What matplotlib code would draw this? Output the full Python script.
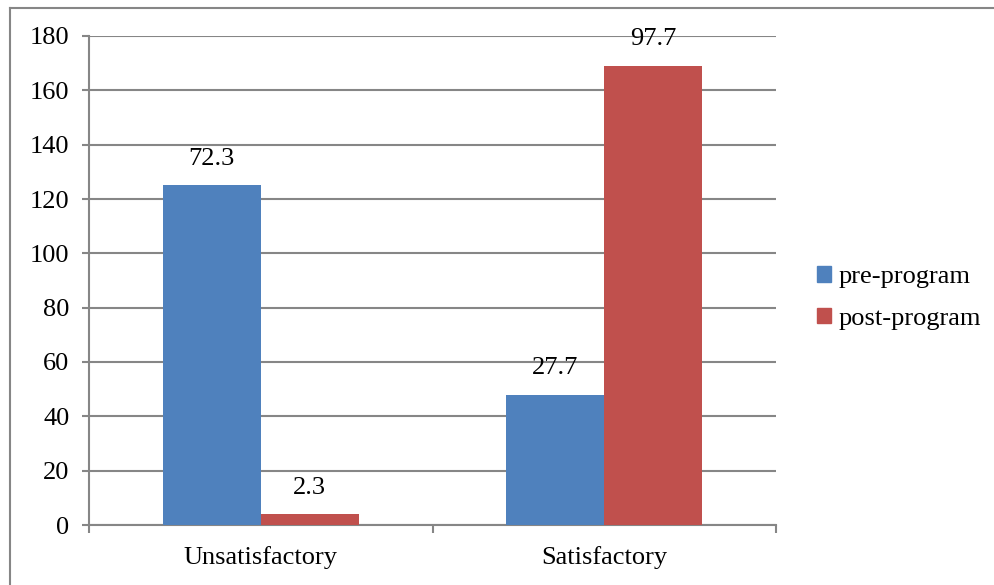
import matplotlib.pyplot as plt
import numpy as np
from matplotlib.lines import Line2D
from matplotlib.patches import Patch

categories = ['Unsatisfactory', 'Satisfactory']
series_names = ['pre-program', 'post-program']
pre_counts = [125, 48]
post_counts = [4, 169]
pre_pct = ['72.3', '27.7']
post_pct = ['2.3', '97.7']
colors = ['#4F81BD', '#C0504D']
yticks = [0, 20, 40, 60, 80, 100, 120, 140, 160, 180]

plt.rcParams['font.family'] = ['Liberation Serif', 'DejaVu Serif']
FS = 19

W, H = 995, 585
fig = plt.figure(figsize=(W / 100, H / 100), dpi=100)
ax = fig.add_axes([89 / W, 1 - 525 / H, (776 - 89) / W, (525 - 36) / H])

x = np.arange(len(categories))
bw = 0.285
b1 = ax.bar(x - bw / 2, pre_counts, bw, color=colors[0], zorder=3)
b2 = ax.bar(x + bw / 2, post_counts, bw, color=colors[1], zorder=3)

for bars, labels in ((b1, pre_pct), (b2, post_pct)):
    for rect, lab in zip(bars, labels):
        ax.annotate(lab, (rect.get_x() + rect.get_width() / 2, rect.get_height()),
                    xytext=(0, 19), textcoords='offset points',
                    ha='center', va='center', fontsize=FS, zorder=4)

ax.set_xlim(-0.5, 1.5)
ax.set_ylim(0, 180)
ax.set_yticks(yticks)
ax.tick_params(axis='y', labelsize=FS, length=5, width=1.5, color='#868686', pad=9)
ax.yaxis.grid(True, color='#868686', linewidth=1.5, zorder=0)
ax.set_axisbelow(True)

# category labels, tick marks at the boundaries
ax.set_xticks([-0.5, 0.5, 1.5])
ax.set_xticklabels([])
ax.tick_params(axis='x', length=6, width=1.5, color='#868686')
for xi, c in zip(x, categories):
    ax.text(xi, -0.066, c, transform=ax.get_xaxis_transform(),
            ha='center', va='center', fontsize=FS)

for s in ('top', 'right'):
    ax.spines[s].set_visible(False)
for s in ('left', 'bottom'):
    ax.spines[s].set_color('#868686')
    ax.spines[s].set_linewidth(1.5)

handles = [Patch(color=c) for c in colors]
fig.legend(handles, series_names, loc='center left',
           bbox_to_anchor=(793 / W, 1 - 298 / H), frameon=False,
           fontsize=FS, handlelength=0.53, handleheight=0.53,
           handletextpad=0.3, labelspacing=0.75)

# outer chart frame (cropped on the right and bottom)
fig.add_artist(Line2D([9.5 / W, 1], [1 - 7.5 / H, 1 - 7.5 / H],
                      color='#868686', linewidth=1.5))
fig.add_artist(Line2D([9.5 / W, 9.5 / W], [0, 1 - 7.5 / H],
                      color='#868686', linewidth=1.5))

fig.savefig('out.png', dpi=100)
